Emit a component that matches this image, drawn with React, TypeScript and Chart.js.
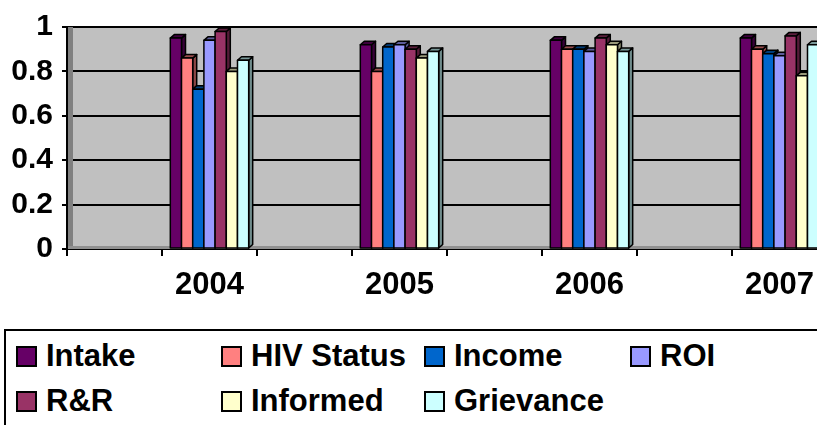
import React, { useEffect, useRef } from 'react';
import { Chart, registerables } from 'chart.js';

Chart.register(...registerables);

// ---- data ----
const categories = ['', '2004', '', '2005', '', '2006', '', '2007'];
const seriesNames = ['Intake', 'HIV Status', 'Income', 'ROI', 'R&R', 'Informed', 'Grievance'];
const seriesColors = ['#660066', '#FF8080', '#0066CC', '#9999FF', '#993366', '#FFFFCC', '#CCFFFF'];

const intake = [null, 0.95, null, 0.92, null, 0.94, null, 0.95];
const hivStatus = [null, 0.86, null, 0.80, null, 0.90, null, 0.90];
const income = [null, 0.72, null, 0.91, null, 0.90, null, 0.88];
const roi = [null, 0.94, null, 0.92, null, 0.89, null, 0.87];
const rAndR = [null, 0.98, null, 0.90, null, 0.95, null, 0.96];
const informed = [null, 0.80, null, 0.86, null, 0.92, null, 0.78];
const grievance = [null, 0.85, null, 0.89, null, 0.89, null, 0.92];

const seriesValues = [intake, hivStatus, income, roi, rAndR, informed, grievance];

const yMin = 0;
const yMax = 1;
const yStep = 0.2;

const FONT = "'Liberation Sans', Arial, Helvetica, sans-serif";

function shade(hex: string, f: number): string {
  const n = parseInt(hex.slice(1), 16);
  const r = Math.round(((n >> 16) & 255) * f);
  const g = Math.round(((n >> 8) & 255) * f);
  const b = Math.round((n & 255) * f);
  return `rgb(${r},${g},${b})`;
}

const plotBg = {
  id: 'plotBg',
  beforeDraw(chart: any) {
    const { ctx, chartArea: a } = chart;
    ctx.save();
    ctx.fillStyle = '#C0C0C0';
    ctx.fillRect(a.left, a.top, a.right - a.left, a.bottom - a.top);
    ctx.fillStyle = '#808080';
    ctx.fillRect(a.left, a.top - 1, a.right - a.left, 2);
    ctx.restore();
  },
  beforeDatasetsDraw(chart: any) {
    const { ctx, chartArea: a } = chart;
    ctx.save();
    ctx.fillStyle = '#808080';
    ctx.fillRect(a.left + 1, a.top, 5, a.bottom - a.top);
    ctx.fillStyle = '#909090';
    ctx.fillRect(a.left + 1, a.bottom - 3, a.right - a.left, 3);
    ctx.restore();
  },
};

const bars3d = {
  id: 'bars3d',
  afterDatasetsDraw(chart: any) {
    const { ctx } = chart;
    const dx = 4;
    const dy = 3.5;
    ctx.save();
    ctx.lineWidth = 1.5;
    ctx.strokeStyle = '#000';
    ctx.lineJoin = 'round';
    chart.data.datasets.forEach((ds: any, i: number) => {
      const meta = chart.getDatasetMeta(i);
      const col = seriesColors[i];
      meta.data.forEach((el: any, j: number) => {
        const v = ds.data[j];
        if (v === null || v === undefined) return;
        const w = el.width;
        const left = el.x - w / 2;
        const right = el.x + w / 2;
        const top = el.y;
        const base = el.base;
        // side face
        ctx.fillStyle = shade(col, 0.55);
        ctx.beginPath();
        ctx.moveTo(right, top);
        ctx.lineTo(right + dx, top - dy);
        ctx.lineTo(right + dx, base - dy);
        ctx.lineTo(right, base);
        ctx.closePath();
        ctx.fill();
        ctx.stroke();
        // top face
        ctx.fillStyle = shade(col, 0.6);
        ctx.beginPath();
        ctx.moveTo(left, top);
        ctx.lineTo(left + dx, top - dy);
        ctx.lineTo(right + dx, top - dy);
        ctx.lineTo(right, top);
        ctx.closePath();
        ctx.fill();
        ctx.stroke();
        // front face
        ctx.fillStyle = col;
        ctx.fillRect(left, top, w, base - top);
        ctx.strokeRect(left, top, w, base - top);
      });
    });
    ctx.restore();
  },
};

const legendCols = [16, 221, 424, 630];
const legendRows = [356, 401];

export default function App() {
  const canvasRef = useRef<HTMLCanvasElement | null>(null);

  useEffect(() => {
    if (!canvasRef.current) return;
    const chart = new Chart(canvasRef.current, {
      type: 'bar',
      data: {
        labels: categories,
        datasets: seriesValues.map((d, i) => ({
          label: seriesNames[i],
          data: d,
          backgroundColor: seriesColors[i],
          borderColor: '#000',
          borderWidth: 1.5,
          categoryPercentage: 0.825,
          barPercentage: 1,
        })),
      },
      options: {
        responsive: false,
        animation: false,
        layout: { padding: { top: 20, right: 8, left: 0, bottom: 0 } },
        plugins: {
          legend: { display: false },
          tooltip: { enabled: false },
        },
        scales: {
          x: {
            grid: {
              offset: true,
              drawOnChartArea: false,
              drawTicks: true,
              tickLength: 7,
              color: '#000',
              lineWidth: 2,
            },
            border: { display: true, color: '#000', width: 2 },
            ticks: {
              font: { family: FONT, size: 31, weight: 'bold' },
              color: '#000',
              padding: 11,
              autoSkip: false,
              maxRotation: 0,
            },
            afterFit: (s: any) => {
              s.height = 61;
            },
          },
          y: {
            min: yMin,
            max: yMax,
            ticks: {
              stepSize: yStep,
              font: { family: FONT, size: 30, weight: 'bold' },
              color: '#000',
              padding: 9,
              callback: (v: any) => String(Math.round(Number(v) * 10) / 10),
            },
            grid: { color: '#000', lineWidth: 2, tickLength: 5, tickColor: '#000' },
            border: { display: true, color: '#000', width: 2 },
            afterFit: (s: any) => {
              s.width = 67;
            },
          },
        },
      } as any,
      plugins: [plotBg, bars3d],
    });
    return () => chart.destroy();
  }, []);

  return (
    <div
      style={{
        position: 'absolute',
        left: 0,
        top: 0,
        width: 817,
        height: 425,
        overflow: 'hidden',
        background: '#fff',
        fontFamily: FONT,
      }}
    >
      <canvas ref={canvasRef} width={835} height={310} style={{ position: 'absolute', left: 0, top: 0 }} />
      <div
        style={{
          position: 'absolute',
          left: 4,
          top: 329,
          width: 900,
          height: 200,
          border: '2px solid #000',
          boxSizing: 'border-box',
        }}
      />
      {seriesNames.map((name, i) => {
        const col = legendCols[i % 4];
        const row = legendRows[Math.floor(i / 4)];
        return (
          <div
            key={name}
            style={{
              position: 'absolute',
              left: col,
              top: row - 18,
              height: 36,
              display: 'flex',
              alignItems: 'center',
              whiteSpace: 'nowrap',
            }}
          >
            <span
              style={{
                display: 'inline-block',
                width: 21,
                height: 21,
                boxSizing: 'border-box',
                border: '2px solid #000',
                background: seriesColors[i],
                marginRight: 9,
              }}
            />
            <span style={{ fontSize: 31, fontWeight: 'bold', color: '#000', lineHeight: '36px' }}>{name}</span>
          </div>
        );
      })}
    </div>
  );
}
